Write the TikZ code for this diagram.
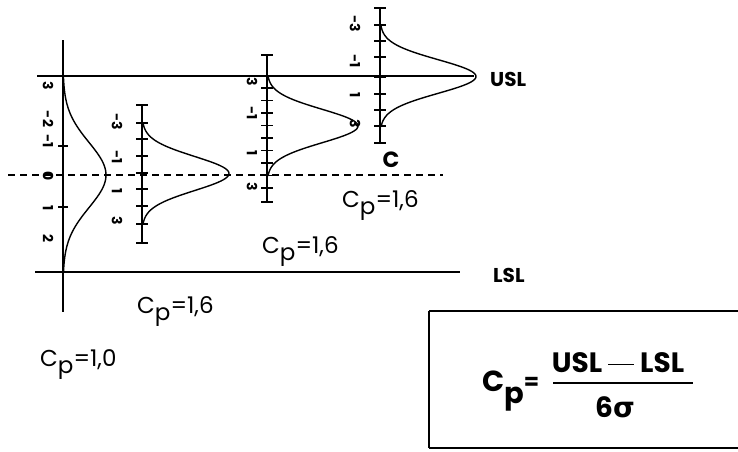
\documentclass[tikz,border=0pt]{standalone}
\usepackage{fontspec}
\setmainfont{Poppins}
\newfontfamily\greekfont{DejaVu Sans}
\begin{document}
\begin{tikzpicture}[x=1pt,y=-1pt,
  axisline/.style={line width=1.8pt},
  limitline/.style={line width=1.9pt},
  bell/.style={line width=1.4pt},
  tickmark/.style={line width=1.2pt},
  numlbl/.style={font=\bfseries\fontsize{14}{14}\selectfont, rotate=-90, inner sep=0pt},
  cplbl/.style={font=\fontsize{23}{23}\selectfont, anchor=base west, inner sep=0pt},
  limitlbl/.style={font=\bfseries\fontsize{20}{20}\selectfont, inner sep=0pt},
  formula/.style={inner sep=0pt}]
\useasboundingbox (0,0) rectangle (738,451);

% limit lines
\coordinate (uslL) at (37,76);
\coordinate (uslR) at (474,76);
\coordinate (lslL) at (35,272);
\coordinate (lslR) at (460,272);
\coordinate (midL) at (8,175);
\coordinate (midR) at (443,175);
\draw[limitline] (uslL) -- (uslR);
\draw[limitline] (lslL) -- (lslR);
\draw[line width=1.4pt, dash pattern=on 7pt off 5pt] (midL) -- (midR);
\node[limitlbl, anchor=west] (usl) at (490,79) {USL};
\node[limitlbl, anchor=west] (lsl) at (493,275) {LSL};

% ---------- curve 1 (Cp = 1,0)
\coordinate (a1t) at (63,40);
\coordinate (a1b) at (63,312);
\draw[axisline] (a1t) -- (a1b);
\foreach \y in {146,207} \draw[tickmark] (58,\y) -- (68,\y);
\draw[bell] plot[domain=-3:3, samples=81] ({63+43*exp(-\x*\x/2)}, {175+\x*32.5});
\foreach \t/\y in {3/86, -2/119, -1/141, 0/176, 1/208, 2/238}
  \node[numlbl] at (48,\y) {\t};

% ---------- curve 2
\coordinate (a2t) at (142,105);
\coordinate (a2b) at (142,243);
\draw[axisline] (a2t) -- (a2b);
\foreach \y in {105,123,139,156,173,189,206,224,243} \draw[tickmark] (136,\y) -- (148,\y);
\draw[bell] plot[domain=-3:3, samples=81] ({142+87*exp(-\x*\x/2)}, {173.5+\x*17});
\foreach \t/\y in {-3/122, -1/157, 1/191, 3/221}
  \node[numlbl] at (117,\y) {\t};

% ---------- curve 3
\coordinate (a3t) at (267,55);
\coordinate (a3b) at (267,202);
\draw[axisline] (a3t) -- (a3b);
\foreach \y in {55,88,100.5,113,125.5,138,150.5,163,175.5,188,202} \draw[tickmark] (261,\y) -- (273,\y);
\draw[bell] plot[domain=-3:3, samples=81] ({267+91*exp(-\x*\x/2)}, {126+\x*16.7});
\foreach \t/\y in {3/82, -1/113, 1/153, 3/187}
  \node[numlbl] at (252,\y) {\t};

% ---------- curve 4
\coordinate (a4t) at (380,8);
\coordinate (a4b) at (380,143);
\draw[axisline] (a4t) -- (a4b);
\foreach \y in {8,25,41,57,77,94,110,126,143} \draw[tickmark] (374,\y) -- (386,\y);
\draw[bell] plot[domain=-3:3, samples=81] ({380+96*exp(-\x*\x/2)}, {76.5+\x*16.8});
\foreach \t/\y in {-3/24, -1/61, 1/95, 3/124}
  \node[numlbl] at (355,\y) {\t};
\node[font=\bfseries\fontsize{22}{22}\selectfont, inner sep=0pt] (clbl) at (391,160) {C};

% ---------- Cp labels
\node[cplbl] (cp4) at (342,207) {C\raisebox{-7pt}{p}=1,6};
\node[cplbl] (cp3) at (262,253) {C\raisebox{-7pt}{p}=1,6};
\node[cplbl] (cp2) at (137,313) {C\raisebox{-7pt}{p}=1,6};
\node[cplbl] (cp1) at (40,366) {C\raisebox{-7pt}{p}=1,0};

% ---------- formula box (right side lies beyond the picture edge)
\coordinate (boxTR) at (738,311);
\coordinate (boxTL) at (429,311);
\coordinate (boxBL) at (429,448);
\coordinate (boxBR) at (738,448);
\draw[line width=2pt] (boxTL) -- (boxTR);
\draw[line width=2pt] (boxTL) -- (boxBL);
\draw[line width=2pt] (boxBL) -- (boxBR);
\node[formula, anchor=base west, font=\bfseries\fontsize{29}{29}\selectfont] (cpf) at (482,391) {C\raisebox{-12pt}{p}\raisebox{2pt}{\fontsize{22}{22}\selectfont=}};
\coordinate (barL) at (553,383);
\coordinate (barR) at (693,383);
\draw[line width=1.8pt] (barL) -- (barR);
\node[formula, anchor=base, font=\bfseries\fontsize{28}{28}\selectfont] (num) at (618,372) {USL\hspace{6pt}\rule[7pt]{26pt}{1.5pt}\hspace{6pt}LSL};
\node[formula, anchor=base, font=\bfseries\fontsize{28}{28}\selectfont] (den) at (615,417) {6{\greekfont\bfseries σ}};
\end{tikzpicture}
\end{document}
